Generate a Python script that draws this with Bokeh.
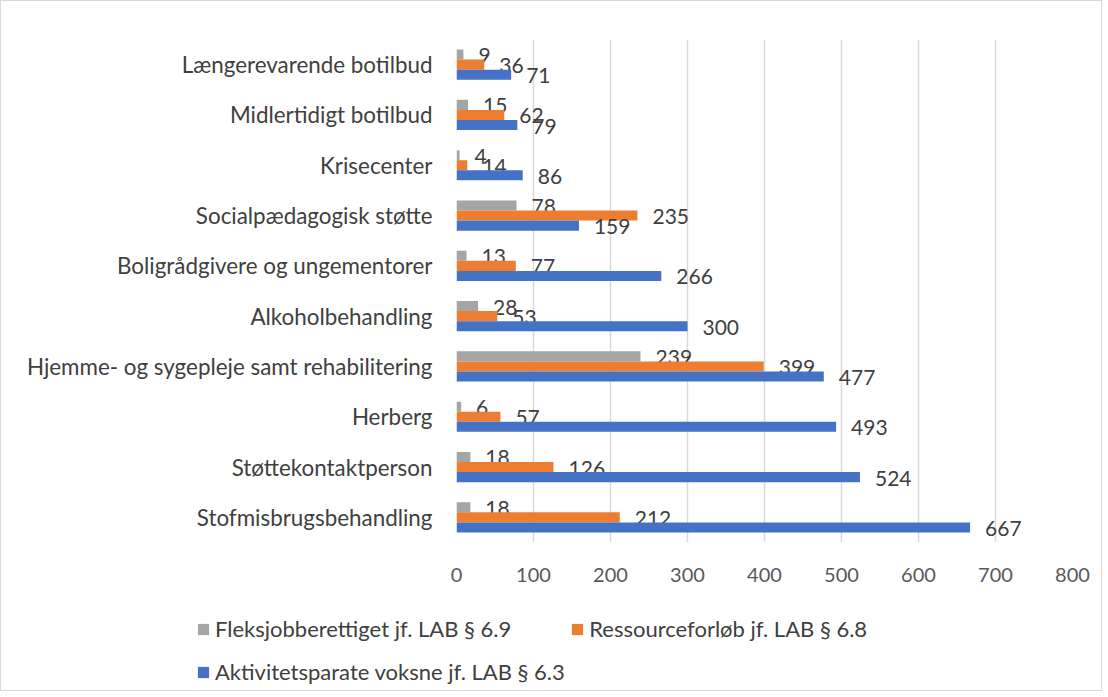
from bokeh.plotting import figure
from bokeh.models import ColumnDataSource, Legend, LegendItem, Range1d, FixedTicker
from bokeh.layouts import column
from bokeh.transform import dodge
from bokeh.core.properties import value
from bokeh.embed import file_html
from bokeh.resources import INLINE

# ---- data (bottom category first) ----
categories = [
    "Stofmisbrugsbehandling",
    "Støttekontaktperson",
    "Herberg",
    "Hjemme- og sygepleje samt rehabilitering",
    "Alkoholbehandling",
    "Boligrådgivere og ungementorer",
    "Socialpædagogisk støtte",
    "Krisecenter",
    "Midlertidigt botilbud",
    "Længerevarende botilbud",
]
fleksjob = [18, 18, 6, 239, 28, 13, 78, 4, 15, 9]
ressource = [212, 126, 57, 399, 53, 77, 235, 14, 62, 36]
aktivitet = [667, 524, 493, 477, 300, 266, 159, 86, 79, 71]
series_names = [
    "Fleksjobberettiget jf. LAB § 6.9",
    "Ressourceforløb jf. LAB § 6.8",
    "Aktivitetsparate voksne jf. LAB § 6.3",
]
series_values = [fleksjob, ressource, aktivitet]
colors = ["#A5A5A5", "#ED7D31", "#4472C4"]
x_ticks = [0, 100, 200, 300, 400, 500, 600, 700, 800]

FONT = "Lato"
TXT = "#404040"
W = 1100
H_MAIN = 600
H_LEG = 89

p = figure(
    width=W, height=H_MAIN,
    y_range=categories, x_range=Range1d(0, 800),
    output_backend="svg", toolbar_location=None,
    min_border_left=455, min_border_right=W - 455 - 616,
    min_border_top=38, min_border_bottom=H_MAIN - 38 - 503,
)
p.outline_line_color = None
p.frame_align = False

offsets = [0.2, 0.0, -0.2]
renderers = []
for name, vals, col, off in zip(series_names, series_values, colors, offsets):
    src = ColumnDataSource(dict(cat=categories, v=vals, lbl=[str(v) for v in vals]))
    r = p.hbar(y=dodge("cat", off, range=p.y_range), right="v", left=0, height=0.2,
               fill_color=col, line_color=None, source=src)
    renderers.append(r)
    p.text(x="v", y=dodge("cat", off, range=p.y_range), text="lbl", source=src,
           x_offset=15, y_offset=1, text_baseline="middle", text_align="left",
           text_font=value(FONT), text_font_size="21px", text_color=TXT)

# axes
p.xaxis.ticker = FixedTicker(ticks=x_ticks)
p.xaxis.axis_line_color = None
p.xaxis.major_tick_line_color = None
p.xaxis.minor_tick_line_color = None
p.xaxis.major_label_text_font = FONT
p.xaxis.major_label_text_font_size = "20px"
p.xaxis.major_label_text_color = "#595959"
p.xaxis.major_label_standoff = 19

p.yaxis.axis_line_color = None
p.yaxis.major_tick_line_color = None
p.yaxis.minor_tick_line_color = None
p.yaxis.major_label_text_font = FONT
p.yaxis.major_label_text_font_size = "22.4px"
p.yaxis.major_label_text_color = TXT
p.yaxis.major_label_standoff = 18

p.xgrid.ticker = FixedTicker(ticks=x_ticks)
p.xgrid.grid_line_color = "#D9D9D9"
p.xgrid.grid_line_width = 1.5
p.ygrid.grid_line_color = None

# ---- legend in its own strip below the chart ----
lp = figure(width=W, height=H_LEG, x_range=Range1d(0, 1), y_range=Range1d(0, 1),
            output_backend="svg", toolbar_location=None,
            x_axis_type=None, y_axis_type=None, min_border=0)
lp.outline_line_color = None
lp.frame_align = False
lp.xgrid.visible = False
lp.ygrid.visible = False
dummy = []
for col in colors:
    # off-screen placeholder glyphs that only feed the legend swatches
    dummy.append(lp.hbar(y=[5], right=[0], left=0, height=0.2,
                         fill_color=col, line_color=None))

def make_legend(items, loc, spacing):
    return Legend(items=items, location=loc, orientation="horizontal",
                  background_fill_alpha=0, border_line_color=None,
                  glyph_width=14, glyph_height=14, label_standoff=5,
                  spacing=spacing, padding=0, margin=0,
                  label_text_font=FONT, label_text_font_size="22px",
                  label_text_color=TXT)

lg1 = make_legend([LegendItem(label=series_names[0], renderers=[dummy[0]]),
                   LegendItem(label=series_names[1], renderers=[dummy[1]])],
                  (195, 48), 59)
lg2 = make_legend([LegendItem(label=series_names[2], renderers=[dummy[2]])],
                  (195, 5), 0)
lp.add_layout(lg1, "center")
lp.add_layout(lg2, "center")

layout = column(p, lp, spacing=0)
layout.styles = {"border": "1px solid #D9D9D9"}

open("out.html", "w").write(file_html(layout, INLINE))
